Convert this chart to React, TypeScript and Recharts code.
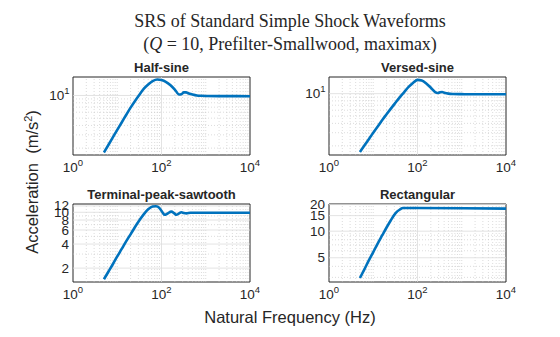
import React from "react";
import { LineChart, Line, XAxis, YAxis, ReferenceLine, ReferenceArea } from "recharts";

const freqTicks = [1, 100, 10000];

const halfSineFreq = [5, 6.3, 8, 10, 12.5, 16, 20, 25, 32, 40, 50, 63, 80, 100, 125, 160, 200, 250, 280, 320, 360, 400, 500, 630, 800, 1000, 2000, 5000, 10000];
const halfSineAcc = [1.75, 2.2, 2.8, 3.5, 4.35, 5.55, 6.9, 8.4, 10.3, 12.3, 14.0, 15.5, 16.3, 16.0, 15.2, 13.7, 12.0, 10.3, 10.4, 11.0, 11.0, 10.7, 10.3, 10.0, 9.9, 9.85, 9.8, 9.8, 9.75];

const versedSineFreq = [5, 6.3, 8, 10, 12.5, 16, 20, 25, 32, 40, 50, 63, 80, 100, 125, 160, 200, 250, 280, 320, 360, 400, 500, 630, 1000, 2000, 5000, 10000];
const versedSineAcc = [1.66, 2.02, 2.48, 3.0, 3.6, 4.45, 5.3, 6.3, 7.6, 9.0, 10.5, 12.3, 14.0, 15.3, 15.0, 13.6, 12.0, 10.5, 10.2, 10.4, 10.5, 10.3, 10.0, 9.9, 9.85, 9.8, 9.8, 9.8];

const sawtoothFreq = [5, 6.3, 8, 10, 12.5, 16, 20, 25, 32, 40, 50, 63, 75, 90, 105, 118, 135, 167, 195, 217, 250, 282, 320, 366, 450, 1000, 10000];
const sawtoothAcc = [1.45, 1.8, 2.25, 2.8, 3.45, 4.35, 5.3, 6.5, 8.0, 9.5, 10.9, 11.8, 11.9, 11.3, 10.0, 9.3, 9.6, 10.2, 9.7, 9.3, 9.7, 10.0, 9.8, 9.7, 9.85, 9.85, 9.85];

const rectFreq = [5, 6.3, 8, 10, 12.5, 16, 20, 25, 32, 40, 47, 63, 100, 1000, 10000];
const rectAcc = [2.95, 3.7, 4.7, 5.8, 7.2, 9.0, 11.0, 13.3, 16.0, 17.6, 18.3, 18.3, 18.3, 18.2, 18.0];

const BLUE = "#0072BD";
const TXT = "#262626";
const SANS = "'Liberation Sans', Arial, Helvetica, sans-serif";
const SERIF = "'Liberation Serif', 'Times New Roman', serif";

// minor grid at 2..9 of every decade, skipping the labelled ticks
const minorOf = (lo: number, hi: number, skip: number[]) => {
  const out: number[] = [];
  for (let d = 1; d <= 10000; d *= 10) {
    for (let k = 1; k <= 9; k++) {
      const v = k * d;
      if (v > lo && v < hi && !skip.includes(v)) out.push(v);
    }
  }
  return out;
};

const PowXTick = ({ x, y, payload }: any) => (
  <text x={x} y={y + 16.5} textAnchor="middle" fill={TXT} fontSize={13.5} fontFamily={SANS}>
    <tspan>10</tspan>
    <tspan dy={-6} fontSize={9.5}>{Math.round(Math.log10(payload.value))}</tspan>
  </text>
);

const PowYTick = ({ x, y, payload }: any) => (
  <text x={x - 3.5} y={y + 4.5} textAnchor="end" fill={TXT} fontSize={13.5} fontFamily={SANS}>
    <tspan>10</tspan>
    <tspan dy={-6} fontSize={9.5}>{Math.round(Math.log10(payload.value))}</tspan>
  </text>
);

const PlainYTick = ({ x, y, payload }: any) => (
  <text x={x - 4} y={y + 4.5} textAnchor="end" fill={TXT} fontSize={13.5} fontFamily={SANS}>
    {payload.value}
  </text>
);

interface PanelProps {
  title: string;
  freq: number[];
  acc: number[];
  yDomain: [number, number];
  yTicks: number[];
  pow?: boolean;
  left: number;
  top: number;
}

const Panel = ({ title, freq, acc, yDomain, yTicks, pow, left, top }: PanelProps) => {
  const data = freq.map((f, i) => ({ f, a: acc[i] }));
  const xMinor = minorOf(1, 10000, freqTicks);
  const yMinor = minorOf(yDomain[0], yDomain[1], yTicks);
  return (
    <div style={{ position: "absolute", left: left - 60, top: top - 26 }}>
      <svg width={247} height={26} style={{ position: "absolute", left: 0, top: 0 }}>
        <text x={148.5} y={21} textAnchor="middle" fontFamily={SANS} fontWeight="bold" fontSize={13} fill={TXT}>
          {title}
        </text>
      </svg>
      <div style={{ position: "absolute", left: 0, top: 16 }}>
        <LineChart width={247} height={113} data={data} margin={{ top: 10, right: 10, left: 0, bottom: 0 }}>
          <XAxis
            dataKey="f"
            type="number"
            scale="log"
            domain={[1, 10000]}
            ticks={freqTicks}
            allowDataOverflow
            axisLine={false}
            tickLine={false}
            tickSize={0}
            tickMargin={0}
            height={25}
            interval={0}
            tick={PowXTick}
          />
          <YAxis
            type="number"
            scale="log"
            domain={yDomain}
            ticks={yTicks}
            allowDataOverflow
            axisLine={false}
            tickLine={false}
            tickSize={0}
            tickMargin={0}
            width={60}
            interval={0}
            tick={pow ? PowYTick : PlainYTick}
          />
          {xMinor.map((v) => (
            <ReferenceLine key={"xm" + v} x={v} stroke="#c4c4c4" strokeWidth={0.6} strokeDasharray="1 2" />
          ))}
          {yMinor.map((v) => (
            <ReferenceLine key={"ym" + v} y={v} stroke="#c4c4c4" strokeWidth={0.6} strokeDasharray="1 2" />
          ))}
          <ReferenceLine x={100} stroke="#dcdcdc" strokeWidth={0.8} />
          {yTicks
            .filter((v) => v > yDomain[0] && v < yDomain[1])
            .map((v) => (
              <ReferenceLine key={"yM" + v} y={v} stroke="#dcdcdc" strokeWidth={0.8} />
            ))}
          <Line
            dataKey="a"
            type="monotone"
            stroke={BLUE}
            strokeWidth={2.6}
            dot={false}
            isAnimationActive={false}
          />
          <ReferenceArea x1={1} x2={10000} y1={yDomain[0]} y2={yDomain[1]} fill="none" stroke={TXT} strokeWidth={1} />
        </LineChart>
      </div>
    </div>
  );
};

export default function App() {
  return (
    <div style={{ position: "absolute", left: 0, top: 0, width: 560, height: 337, background: "#fff" }}>
      <svg width={560} height={337} style={{ position: "absolute", left: 0, top: 0 }}>
        <text x={290} y={27} textAnchor="middle" fontFamily={SERIF} fontSize={18} fill={TXT}>
          SRS of Standard Simple Shock Waveforms
        </text>
        <text x={290} y={50} textAnchor="middle" fontFamily={SERIF} fontSize={18} fill={TXT}>
          (<tspan fontStyle="italic">Q</tspan> = 10, Prefilter-Smallwood, maximax)
        </text>
        <text x={290} y={323} textAnchor="middle" fontFamily={SANS} fontSize={16.5} fill={TXT}>
          Natural Frequency (Hz)
        </text>
        <text
          transform="translate(38,182) rotate(-90)"
          textAnchor="middle"
          fontFamily={SANS}
          fontSize={16.5}
          fill={TXT}
          style={{ whiteSpace: "pre" }}
        >
          {"Acceleration  (m/s"}
          <tspan dy={-6} fontSize={11}>2</tspan>
          <tspan dy={6}>)</tspan>
        </text>
      </svg>
      <Panel title="Half-sine" freq={halfSineFreq} acc={halfSineAcc} yDomain={[1.62, 17.6]} yTicks={[10]} pow left={73} top={77} />
      <Panel title="Versed-sine" freq={versedSineFreq} acc={versedSineAcc} yDomain={[1.51, 16.7]} yTicks={[10]} pow left={329} top={77} />
      <Panel title="Terminal-peak-sawtooth" freq={sawtoothFreq} acc={sawtoothAcc} yDomain={[1.34, 12.7]} yTicks={[2, 4, 6, 8, 10, 12]} left={73} top={204} />
      <Panel title="Rectangular" freq={rectFreq} acc={rectAcc} yDomain={[2.66, 20.3]} yTicks={[5, 10, 15, 20]} left={329} top={204} />
    </div>
  );
}
